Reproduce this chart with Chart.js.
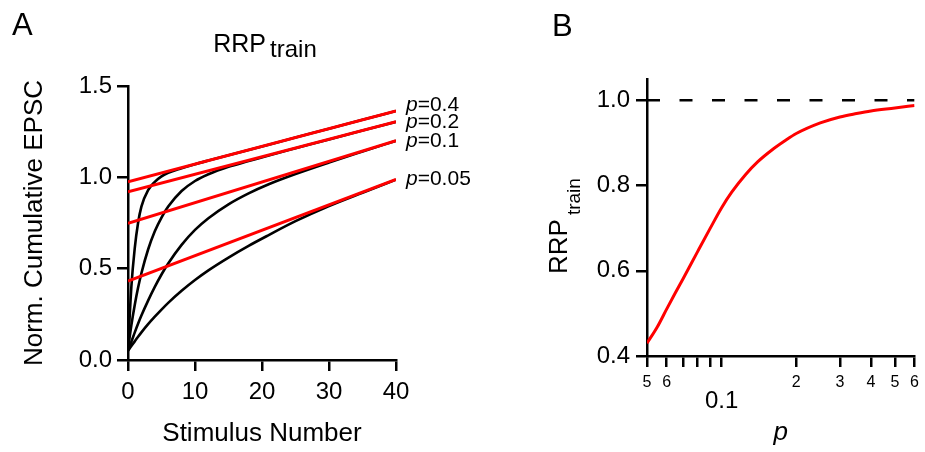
<!DOCTYPE html>
<html>
<head>
<meta charset="utf-8">
<script src="https://cdn.jsdelivr.net/npm/chart.js@4.4.1/dist/chart.umd.min.js"></script>
<style>
  body { margin: 0; background: #fff; }
  #wrap { position: relative; width: 925px; height: 452px; }
  canvas { position: absolute; top: 0; }
  #chartA { left: 0; }
  #chartB { left: 470px; }
</style>
</head>
<body>
<div id="wrap">
  <canvas id="chartA" width="470" height="452"></canvas>
  <canvas id="chartB" width="455" height="452"></canvas>
</div>
<script>
// Panel A: cumulative EPSC during the train, one curve per release probability
const stimulusNumber = [0, 0.5, 1, 1.5, 2, 3, 4, 5, 6, 8, 10, 12, 15, 18, 21, 25, 30, 35, 40];
const cumP04  = [0.06, 0.40, 0.61, 0.75, 0.84, 0.93, 0.975, 1.005, 1.025, 1.050, 1.072, 1.092, 1.121, 1.150, 1.179, 1.218, 1.266, 1.315, 1.363];
const cumP02  = [0.06, 0.19, 0.30, 0.395, 0.475, 0.605, 0.705, 0.78, 0.84, 0.925, 0.98, 1.017, 1.058, 1.089, 1.12, 1.159, 1.207, 1.256, 1.304];
const cumP01  = [0.055, 0.10, 0.15, 0.198, 0.243, 0.325, 0.40, 0.468, 0.528, 0.630, 0.712, 0.776, 0.852, 0.912, 0.962, 1.018, 1.081, 1.141, 1.2];
const cumP005 = [0.05, 0.077, 0.102, 0.127, 0.151, 0.196, 0.237, 0.276, 0.313, 0.379, 0.438, 0.491, 0.561, 0.625, 0.684, 0.76, 0.843, 0.916, 0.987];

// linear fits to the late part of the train, back-extrapolated to 0
const pLabels  = ['0.4', '0.2', '0.1', '0.05'];
const fitStart = [0.976, 0.921, 0.748, 0.432];
const fitEnd   = [1.363, 1.304, 1.200, 0.989];
const fitRange = [0, 40];
const xTicksA  = [0, 10, 20, 30, 40];
const yTicksA  = [0, 0.5, 1.0, 1.5];

// Panel B: RRP_train (fit intercept) against release probability
const pValues  = [0.05, 0.055, 0.06, 0.065, 0.07, 0.08, 0.09, 0.1, 0.11, 0.125, 0.14, 0.16, 0.18, 0.2, 0.25, 0.3, 0.35, 0.4, 0.5, 0.6];
const rrpTrain = [0.43, 0.468, 0.51, 0.548, 0.582, 0.645, 0.700, 0.748, 0.785, 0.826, 0.856, 0.884, 0.905, 0.922, 0.947, 0.961, 0.969, 0.975, 0.982, 0.988];
const pTicks      = [0.05, 0.06, 0.07, 0.08, 0.09, 0.1, 0.2, 0.3, 0.4, 0.5, 0.6];
const pTickLabels = ['5', '6', '', '', '', ['', '0.1'], '2', '3', '4', '5', '6'];
const yTicksB  = [0.4, 0.6, 0.8, 1.0];
const plateau  = 1.0;

const FONT = "'Liberation Sans', Arial, sans-serif";
Chart.defaults.font.family = FONT;
Chart.defaults.color = '#000';

const AXIS_W = 2.5;
const FIT_RED = '#ff0000';

function toPoints(xs, ys) {
    return xs.map((x, i) => ({ x: x, y: ys[i] }));
}

// draws text pieces one after another, each with its own font and vertical shift
function drawRun(ctx, parts, x, y) {
    let cx = x;
    parts.forEach(p => {
        ctx.font = p.font;
        ctx.fillText(p.text, cx, y + (p.dy || 0));
        cx += ctx.measureText(p.text).width + (p.gap || 0);
    });
}

function runWidth(ctx, parts) {
    let w = 0;
    parts.forEach(p => {
        ctx.font = p.font;
        w += ctx.measureText(p.text).width + (p.gap || 0);
    });
    return w;
}

const textA = {
    id: 'textA',
    afterDraw(chart) {
        const ctx = chart.ctx;
        const area = chart.chartArea;
        const xs = chart.scales.x, ys = chart.scales.y;
        ctx.save();
        ctx.fillStyle = '#000';
        ctx.textBaseline = 'alphabetic';
        ctx.font = `31px ${FONT}`;
        ctx.fillText('A', 12, 35);

        const title = [
            { text: 'RRP', font: `25px ${FONT}`, gap: 4 },
            { text: 'train', font: `24px ${FONT}`, dy: 5 }
        ];
        const tw = runWidth(ctx, title);
        drawRun(ctx, title, (area.left + area.right) / 2 + 3 - tw / 2, 52);

        // p labels next to the end of each fit line
        const nudge = [-6, 0, 0, 0];
        ctx.textBaseline = 'middle';
        pLabels.forEach((lab, i) => {
            const px = xs.getPixelForValue(fitRange[1]) + 10;
            const py = ys.getPixelForValue(fitEnd[i]) + nudge[i];
            drawRun(ctx, [
                { text: 'p', font: `italic 21px ${FONT}` },
                { text: '=' + lab, font: `21px ${FONT}` }
            ], px, py);
        });
        ctx.restore();
    }
};

const textB = {
    id: 'textB',
    afterDraw(chart) {
        const ctx = chart.ctx;
        ctx.save();
        ctx.fillStyle = '#000';
        ctx.textBaseline = 'alphabetic';
        ctx.font = `31px ${FONT}`;
        ctx.fillText('B', 82, 36);

        // rotated axis title with subscript
        ctx.translate(97, 274);
        ctx.rotate(-Math.PI / 2);
        drawRun(ctx, [
            { text: 'RRP', font: `26px ${FONT}`, gap: 4 },
            { text: 'train', font: `19px ${FONT}`, dy: 13 }
        ], 0, 0);
        ctx.restore();
    }
};

const datasetsA = [];
pLabels.forEach((lab, i) => {
    datasetsA.push({
        label: 'fit p=' + lab,
        data: toPoints(fitRange, [fitStart[i], fitEnd[i]]),
        borderColor: FIT_RED,
        borderWidth: 3,
        pointRadius: 0,
        order: 0
    });
});
[cumP04, cumP02, cumP01, cumP005].forEach((series, i) => {
    datasetsA.push({
        label: 'p=' + pLabels[i],
        data: toPoints(stimulusNumber, series),
        borderColor: '#000',
        borderWidth: 2.6,
        pointRadius: 0,
        cubicInterpolationMode: 'monotone',
        order: 1
    });
});

new Chart(document.getElementById('chartA'), {
    type: 'line',
    data: { datasets: datasetsA },
    options: {
        responsive: false,
        animation: false,
        layout: { padding: { top: 86, right: 74, left: 0, bottom: 0 } },
        plugins: { legend: { display: false }, tooltip: { enabled: false } },
        scales: {
            x: {
                type: 'linear',
                min: 0, max: 40,
                afterFit: s => { s.height = 92; },
                afterBuildTicks: s => { s.ticks = xTicksA.map(v => ({ value: v })); },
                border: { display: true, color: '#000', width: AXIS_W },
                grid: { drawOnChartArea: false, drawTicks: true, tickLength: 11, color: '#000', lineWidth: AXIS_W },
                ticks: { font: { size: 24 }, padding: 7, maxRotation: 0, autoSkip: false, callback: v => String(v) },
                title: { display: true, text: 'Stimulus Number', font: { size: 26 }, padding: { top: 0, bottom: 3 } }
            },
            y: {
                type: 'linear',
                min: 0, max: 1.5,
                afterFit: s => { s.width = 128; },
                afterBuildTicks: s => { s.ticks = yTicksA.map(v => ({ value: v })); },
                border: { display: true, color: '#000', width: AXIS_W },
                grid: { drawOnChartArea: false, drawTicks: true, tickLength: 11, color: '#000', lineWidth: AXIS_W },
                ticks: { font: { size: 24 }, padding: 5, autoSkip: false, callback: v => v.toFixed(1) },
                title: { display: true, text: 'Norm. Cumulative EPSC', font: { size: 26 }, padding: { top: 19, bottom: 0 } }
            }
        }
    },
    plugins: [textA]
});

new Chart(document.getElementById('chartB'), {
    type: 'line',
    data: {
        datasets: [
            {
                label: 'RRP train',
                data: toPoints(pValues, rrpTrain),
                borderColor: FIT_RED,
                borderWidth: 3,
                pointRadius: 0,
                cubicInterpolationMode: 'monotone'
            },
            {
                label: 'plateau',
                data: toPoints([pTicks[0], pTicks[pTicks.length - 1]], [plateau, plateau]),
                borderColor: '#000',
                borderWidth: 2.6,
                borderDash: [13, 19.5],
                pointRadius: 0
            }
        ]
    },
    options: {
        responsive: false,
        animation: false,
        layout: { padding: { top: 79, right: 9, left: 0, bottom: 0 } },
        plugins: { legend: { display: false }, tooltip: { enabled: false } },
        scales: {
            x: {
                type: 'logarithmic',
                min: 0.05, max: 0.6,
                afterFit: s => { s.height = 96; },
                afterBuildTicks: s => { s.ticks = pTicks.map(v => ({ value: v })); },
                border: { display: true, color: '#000', width: AXIS_W },
                grid: { drawOnChartArea: false, drawTicks: true, tickLength: 11, color: '#000', lineWidth: AXIS_W },
                ticks: {
                    padding: 6, maxRotation: 0, autoSkip: false,
                    font: ctx => (ctx.tick && ctx.tick.value === 0.1) ? { size: 24, lineHeight: 0.78 } : { size: 16 },
                    callback: v => pTickLabels[pTicks.indexOf(v)] !== undefined ? pTickLabels[pTicks.indexOf(v)] : ''
                },
                title: { display: true, text: 'p', font: { size: 26, style: 'italic' }, padding: { top: 0, bottom: 4 } }
            },
            y: {
                type: 'linear',
                min: 0.4, max: 1.05,
                afterFit: s => { s.width = 177; },
                afterBuildTicks: s => { s.ticks = yTicksB.map(v => ({ value: v })); },
                border: { display: true, color: '#000', width: AXIS_W },
                grid: { drawOnChartArea: false, drawTicks: true, tickLength: 11, color: '#000', lineWidth: AXIS_W },
                ticks: { font: { size: 24 }, padding: 6, autoSkip: false, callback: v => v.toFixed(1) }
            }
        }
    },
    plugins: [textB]
});
</script>
</body>
</html>
